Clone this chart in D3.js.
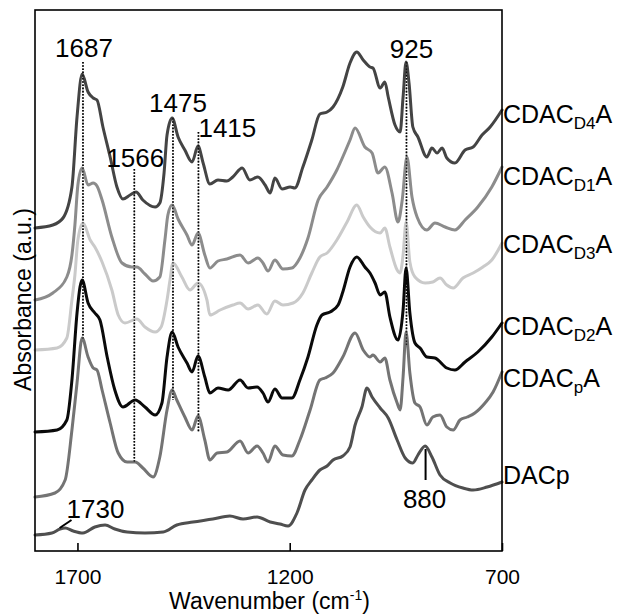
<!DOCTYPE html>
<html><head><meta charset="utf-8">
<script src="https://cdn.jsdelivr.net/npm/d3@7"></script>
<style>
body{margin:0;background:#fff}
svg{display:block}
text{font-family:Arial,"Liberation Sans",Helvetica,sans-serif;fill:#000}
</style>
</head><body>
<svg id="chart" width="622" height="616"></svg>
<script>
// ---------------- DATA ----------------
// series labels: [main, subscript, tail]
const seriesNames = [["CDAC","D4","A"],["CDAC","D1","A"],["CDAC","D3","A"],["CDAC","D2","A"],["CDAC","p","A"],["DACp","",""]];

// [wavenumber (cm-1), absorbance (a.u., stacked)]
const CDAC_D4A = [[1800,3.23],[1758,3.26],[1734,3.33],[1713,3.64],[1701,4.34],[1689,4.77],[1675,4.59],[1663,4.53],[1654,4.51],[1640,4.24],[1623,3.94],[1607,3.64],[1593,3.52],[1576,3.56],[1562,3.59],[1546,3.51],[1517,3.44],[1506,3.48],[1496,3.78],[1489,4.16],[1477,4.33],[1463,4.14],[1447,4.01],[1430,3.89],[1416,4.05],[1404,3.88],[1388,3.67],[1369,3.71],[1348,3.70],[1334,3.74],[1312,3.83],[1294,3.71],[1275,3.74],[1258,3.66],[1246,3.58],[1235,3.73],[1218,3.62],[1199,3.64],[1188,3.63],[1169,3.84],[1148,4.11],[1129,4.37],[1112,4.39],[1098,4.44],[1075,4.64],[1058,4.88],[1042,4.99],[1027,4.91],[1011,4.84],[1004,4.83],[987,4.63],[976,4.69],[968,4.54],[952,4.26],[940,4.19],[933,4.54],[926,4.89],[919,4.68],[910,4.24],[898,4.14],[877,3.94],[865,4.03],[853,3.98],[841,4.03],[830,3.93],[811,3.88],[787,4.01],[768,4.04],[747,4.16],[728,4.24],[700,4.41]];

const CDAC_D1A = [[1800,2.51],[1758,2.58],[1725,2.74],[1713,2.96],[1706,3.26],[1699,3.66],[1689,3.83],[1675,3.66],[1663,3.68],[1654,3.65],[1642,3.51],[1619,3.14],[1595,2.88],[1572,2.84],[1560,2.84],[1541,2.77],[1522,2.70],[1506,2.74],[1494,3.11],[1487,3.36],[1477,3.46],[1463,3.32],[1442,3.16],[1430,3.06],[1416,3.18],[1400,2.96],[1388,2.83],[1369,2.90],[1348,2.92],[1317,2.96],[1298,2.88],[1275,2.93],[1263,2.88],[1251,2.80],[1235,2.91],[1216,2.82],[1195,2.83],[1176,2.93],[1157,3.13],[1133,3.51],[1112,3.64],[1089,3.81],[1070,3.99],[1058,4.11],[1046,4.23],[1023,4.04],[1006,3.98],[992,3.78],[976,3.84],[959,3.58],[945,3.29],[935,3.51],[924,3.94],[912,3.54],[900,3.34],[877,3.21],[858,3.28],[834,3.24],[811,3.21],[787,3.31],[757,3.44],[724,3.64],[700,3.84]];

const CDAC_D3A = [[1800,2.01],[1748,2.03],[1725,2.13],[1713,2.51],[1706,2.76],[1699,3.11],[1687,3.28],[1670,3.11],[1659,3.04],[1642,2.89],[1619,2.61],[1604,2.36],[1588,2.28],[1560,2.32],[1541,2.24],[1517,2.19],[1503,2.24],[1489,2.51],[1482,2.71],[1475,2.88],[1454,2.74],[1435,2.61],[1416,2.68],[1395,2.51],[1388,2.36],[1364,2.41],[1334,2.46],[1317,2.48],[1298,2.42],[1275,2.46],[1254,2.37],[1235,2.50],[1216,2.46],[1192,2.48],[1169,2.58],[1148,2.78],[1129,2.94],[1112,2.98],[1089,3.11],[1065,3.29],[1042,3.46],[1027,3.34],[1011,3.24],[987,3.18],[976,3.23],[964,3.04],[947,2.81],[940,2.78],[933,2.96],[926,3.29],[917,2.89],[905,2.74],[881,2.68],[863,2.69],[846,2.73],[830,2.66],[815,2.63],[792,2.73],[768,2.78],[745,2.84],[724,2.91],[700,3.08]];

const CDAC_D2A = [[1800,1.19],[1748,1.21],[1725,1.31],[1713,1.71],[1701,2.38],[1694,2.64],[1689,2.71],[1675,2.48],[1659,2.38],[1647,2.31],[1630,1.94],[1612,1.61],[1593,1.44],[1564,1.51],[1541,1.44],[1517,1.36],[1501,1.48],[1489,1.94],[1477,2.19],[1463,2.04],[1442,1.88],[1430,1.79],[1416,1.95],[1400,1.74],[1388,1.58],[1369,1.63],[1345,1.61],[1317,1.71],[1298,1.63],[1277,1.64],[1263,1.58],[1251,1.49],[1235,1.62],[1218,1.53],[1195,1.53],[1176,1.71],[1157,1.94],[1136,2.26],[1124,2.36],[1105,2.39],[1086,2.46],[1075,2.59],[1058,2.84],[1042,2.94],[1023,2.84],[1011,2.78],[999,2.68],[987,2.56],[976,2.59],[964,2.34],[945,2.11],[933,2.41],[926,2.83],[917,2.38],[905,2.08],[893,2.03],[877,1.94],[858,1.93],[830,1.83],[811,1.81],[787,1.89],[757,1.99],[724,2.14],[700,2.28]];

const CDAC_pA = [[1800,0.54],[1753,0.58],[1729,0.71],[1713,1.21],[1701,1.68],[1689,2.13],[1675,1.94],[1663,1.83],[1654,1.81],[1642,1.61],[1623,1.28],[1604,0.98],[1583,0.89],[1564,0.89],[1546,0.83],[1522,0.74],[1506,0.94],[1489,1.41],[1477,1.61],[1466,1.51],[1447,1.34],[1430,1.21],[1416,1.35],[1400,1.11],[1388,0.91],[1371,0.98],[1348,0.99],[1317,1.10],[1298,0.98],[1277,1.05],[1263,0.98],[1251,0.89],[1235,1.05],[1216,0.96],[1195,0.95],[1176,1.11],[1152,1.41],[1129,1.71],[1117,1.73],[1098,1.78],[1075,1.94],[1046,2.18],[1027,2.01],[1011,1.94],[1004,1.96],[987,1.89],[976,1.93],[964,1.71],[947,1.48],[940,1.41],[933,1.74],[926,2.19],[917,1.78],[905,1.48],[893,1.44],[877,1.26],[863,1.34],[846,1.36],[830,1.24],[815,1.21],[799,1.31],[782,1.34],[764,1.38],[740,1.48],[721,1.59],[700,1.79]];

const DACp = [[1800,0.16],[1760,0.18],[1741,0.22],[1729,0.23],[1710,0.20],[1687,0.18],[1659,0.24],[1635,0.26],[1612,0.22],[1583,0.19],[1541,0.18],[1498,0.19],[1466,0.26],[1428,0.29],[1381,0.32],[1341,0.35],[1310,0.32],[1277,0.34],[1246,0.29],[1223,0.27],[1204,0.25],[1183,0.38],[1164,0.61],[1148,0.71],[1129,0.81],[1112,0.85],[1098,0.91],[1075,0.95],[1058,1.04],[1046,1.26],[1030,1.44],[1018,1.63],[1006,1.54],[987,1.43],[968,1.33],[947,1.11],[928,0.93],[910,0.88],[898,0.96],[881,1.05],[865,0.94],[846,0.76],[822,0.68],[792,0.63],[768,0.61],[735,0.64],[700,0.69]];

const seriesData = [CDAC_D4A, CDAC_D1A, CDAC_D3A, CDAC_D2A, CDAC_pA, DACp];

const xTicks = [1700, 1200, 700];

// dotted peak guides: [wavenumber, label, top absorbance, bottom absorbance]
const peakGuides = [[1687,"1687",4.89,2.11],[1566,"1566",3.82,0.89],[1475,"1475",4.33,1.51],[1415,"1415",4.19,1.19],[925,"925",4.89,2.06]];
// solid markers on DACp: [wavenumber, label]
const dacpMarks = [[880,"880"],[1730,"1730"]];

// ---------------- LAYOUT / STYLE ----------------
const plot = {left:35, top:10, right:502, bottom:551};
const colors = ["#444444","#8c8c8c","#cacaca","#0a0a0a","#747474","#4f4f4f"];
const labelBaselineA = [4.28, 3.66, 2.98, 2.16, 1.64, 0.67];
// label offsets for peak guides [dx, dy, anchor]
const guideLabelPos = [[1,-5,"middle"],[1,-2,"middle"],[5,-6,"middle"],[0,5,"start"],[5,-4,"middle"]];

const svg = d3.select("#chart");
const x = d3.scaleLinear().domain([1800, 700]).range([plot.left, plot.right]);
const y = d3.scaleLinear().domain([0, 5.41]).range([plot.bottom, plot.top]);

const line = d3.line().x(d => x(d[0])).y(d => y(d[1])).curve(d3.curveMonotoneX);

// dotted guides
function drawGuides(op, sw) {
  peakGuides.forEach(g => {
    svg.append("line")
      .attr("x1", x(g[0])).attr("x2", x(g[0]))
      .attr("y1", y(g[2])).attr("y2", y(g[3]))
      .attr("stroke", "#000").attr("stroke-width", sw)
      .attr("stroke-dasharray", "1.6,1.6").attr("opacity", op);
  });
}
drawGuides(1, 1.6);

// curves, bottom first so that upper curves lie on top
[5,4,3,2,1,0].forEach(i => {
  svg.append("path")
    .datum(seriesData[i])
    .attr("fill", "none")
    .attr("stroke", colors[i])
    .attr("stroke-width", 3)
    .attr("stroke-linejoin", "round")
    .attr("stroke-linecap", "round")
    .attr("d", line);
});

drawGuides(0.7, 1.4);

// guide labels
peakGuides.forEach((g, i) => {
  const p = guideLabelPos[i];
  svg.append("text")
    .attr("x", x(g[0]) + p[0])
    .attr("y", y(g[2]) + p[1])
    .attr("text-anchor", p[2])
    .attr("font-size", 26)
    .text(g[1]);
});

// 880 marker
{
  const w = dacpMarks[0][0];
  svg.append("line").attr("x1", x(w)).attr("x2", x(w))
    .attr("y1", y(1.02)).attr("y2", y(0.71))
    .attr("stroke", "#000").attr("stroke-width", 2);
  svg.append("text").attr("x", x(w) - 1).attr("y", y(0.43))
    .attr("text-anchor", "middle").attr("font-size", 26).text(dacpMarks[0][1]);
}
// 1730 marker
{
  const w = dacpMarks[1][0];
  svg.append("line").attr("x1", x(w + 12)).attr("x2", x(w - 16))
    .attr("y1", y(0.23)).attr("y2", y(0.31))
    .attr("stroke", "#000").attr("stroke-width", 2);
  svg.append("text").attr("x", x(w - 16) - 5).attr("y", y(0.33))
    .attr("text-anchor", "start").attr("font-size", 26).text(dacpMarks[1][1]);
}

// frame
svg.append("rect")
  .attr("x", plot.left).attr("y", plot.top)
  .attr("width", plot.right - plot.left).attr("height", plot.bottom - plot.top)
  .attr("fill", "none").attr("stroke", "#000").attr("stroke-width", 1.6);

// x axis ticks (inward) and labels
const xAxis = d3.axisBottom(x).tickValues(xTicks).tickFormat(d3.format("d"))
  .tickSizeInner(-8).tickSizeOuter(0);
const gx = svg.append("g").attr("transform", `translate(0,${plot.bottom})`).call(xAxis);
gx.select(".domain").remove();
gx.selectAll(".tick line").attr("stroke", "#000").attr("stroke-width", 1.6);
gx.selectAll(".tick text").attr("font-size", 21).attr("font-family", "Arial, 'Liberation Sans', sans-serif")
  .attr("fill", "#000").attr("dy", 0).attr("y", 33);

// axis titles
const xt = svg.append("text").attr("x", (plot.left + plot.right) / 2 + 1).attr("y", 609)
  .attr("text-anchor", "middle").attr("font-size", 23);
xt.append("tspan").text("Wavenumber (cm");
xt.append("tspan").attr("font-size", 14).attr("dy", -9).text("-1");
xt.append("tspan").attr("dy", 9).text(")");

svg.append("text")
  .attr("transform", `translate(31,${(plot.top + plot.bottom) / 2 + 19}) rotate(-90)`)
  .attr("text-anchor", "middle").attr("font-size", 23)
  .text("Absorbance (a.u.)");

// series labels
seriesNames.forEach((n, i) => {
  const t = svg.append("text").attr("x", plot.right + 1).attr("y", y(labelBaselineA[i]))
    .attr("font-size", 25);
  t.append("tspan").text(n[0]);
  if (n[1]) {
    t.append("tspan").attr("font-size", 17).attr("dy", 6).text(n[1]);
    t.append("tspan").attr("dy", -6).text(n[2]);
  }
});
</script>
</body></html>
